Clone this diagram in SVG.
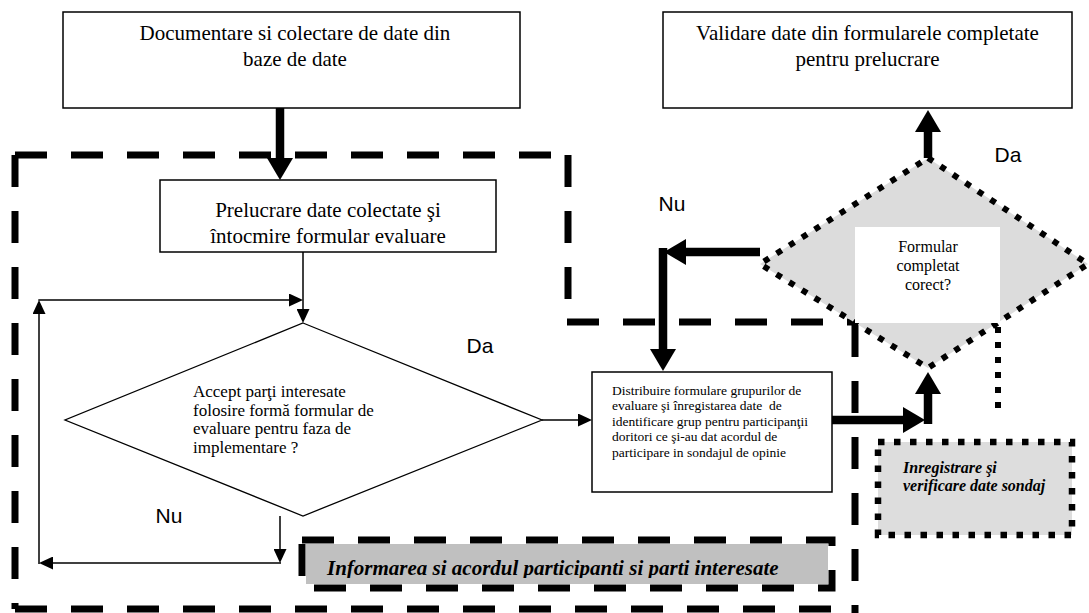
<svg xmlns="http://www.w3.org/2000/svg" width="1089" height="613" viewBox="0 0 1089 613">
<defs>
<style>
.box{fill:#fff;stroke:#000;stroke-width:1.5}
.t{font-family:"Liberation Serif","Times New Roman",serif;fill:#000}
.big{font-size:21px}
.lbl{font-family:"Liberation Sans",Arial,sans-serif;font-size:21px;fill:#000}
.dash{fill:none;stroke:#000;stroke-width:7;stroke-dasharray:32 24}
.dot{stroke:#000;stroke-width:6;stroke-dasharray:6 9}
.thin{fill:none;stroke:#000;stroke-width:1.5}
.thick{fill:none;stroke:#000;stroke-width:8.5}
.bi{font-weight:bold;font-style:italic}
</style>
<marker id="ah" markerUnits="userSpaceOnUse" markerWidth="14" markerHeight="13" refX="0" refY="6.5" orient="auto" viewBox="0 0 14 13">
<path d="M0,0 L14,6.5 L0,13 z" fill="#000"/>
</marker>
<marker id="ahT" markerUnits="userSpaceOnUse" markerWidth="22" markerHeight="26" refX="0" refY="13" orient="auto" viewBox="0 0 22 26">
<path d="M0,0 L22,13 L0,26 z" fill="#000"/>
</marker>
<clipPath id="clipInf"><rect x="300" y="530" width="540" height="48"/></clipPath>
</defs>
<rect width="1089" height="613" fill="#fff"/>

<g id="regions">
<line class="dash" x1="15" y1="155" x2="568" y2="155"/>
<line class="dash" x1="568" y1="155" x2="568" y2="322"/>
<line class="dash" x1="567" y1="322" x2="855" y2="322"/>
<line class="dash" x1="855" y1="325" x2="855" y2="613"/>
<line class="dash" x1="15" y1="609" x2="855" y2="609"/>
<line class="dash" x1="15" y1="155" x2="15" y2="609"/>
</g>

<g id="node-documentare">
<rect class="box" x="63" y="12" width="457" height="96"/>
<text class="t big" text-anchor="middle" x="295" y="40">Documentare si colectare de date din</text>
<text class="t big" text-anchor="middle" x="295" y="66">baze de date</text>
</g>

<g id="node-validare">
<rect class="box" x="663" y="12" width="409" height="96"/>
<text class="t big" text-anchor="middle" x="867.5" y="40">Validare date din formularele completate</text>
<text class="t big" text-anchor="middle" x="867.5" y="66">pentru prelucrare</text>
</g>

<g id="node-prelucrare">
<rect class="box" x="160" y="180" width="336" height="72"/>
<text class="t big" text-anchor="middle" x="328" y="217">Prelucrare date colectate şi</text>
<text class="t big" text-anchor="middle" x="328" y="243">întocmire formular evaluare</text>
</g>

<g id="node-accept">
<polygon points="303,323 542,420 303,516 65,420" fill="#fff" stroke="#000" stroke-width="1.3"/>
<text class="t" font-size="17" x="193" y="397">Accept parţi interesate</text>
<text class="t" font-size="17" x="193" y="415.5">folosire formă formular de</text>
<text class="t" font-size="17" x="193" y="434">evaluare pentru faza de</text>
<text class="t" font-size="17" x="193" y="452.5">implementare ?</text>
</g>

<g id="node-distribuire">
<rect class="box" x="592" y="372" width="240" height="120"/>
<text class="t" font-size="13.5" x="612" y="394.5">Distribuire formulare grupurilor de</text>
<text class="t" font-size="13.5" x="612" y="410" xml:space="preserve">evaluare şi înregistarea date  de</text>
<text class="t" font-size="13.5" x="612" y="425.5">identificare grup pentru participanţii</text>
<text class="t" font-size="13.5" x="612" y="441">doritori ce şi-au dat acordul de</text>
<text class="t" font-size="13.5" x="612" y="456.5">participare in sondajul de opinie</text>
</g>

<g id="node-formular">
<polygon points="928,158 1088,264 928,368 760,264" fill="#dcdcdc" class="dot"/>
<rect x="855" y="227" width="145" height="96" fill="#fff"/>
<text class="t" font-size="16" text-anchor="middle" x="928" y="252">Formular</text>
<text class="t" font-size="16" text-anchor="middle" x="928" y="271">completat</text>
<text class="t" font-size="16" text-anchor="middle" x="928" y="290">corect?</text>
<line class="dot" x1="998" y1="327" x2="998" y2="412"/>
</g>

<g id="node-informarea">
<rect x="302" y="540" width="530" height="48" fill="#c0c0c0" class="dash"/>
<rect x="306" y="544" width="522" height="40" fill="#c0c0c0"/>
<text class="t bi" font-size="21" x="327" y="575" clip-path="url(#clipInf)">Informarea si acordul participanti si parti interesate</text>
</g>

<g id="node-inregistrare">
<rect x="878" y="442" width="194" height="93" fill="#dddddd" class="dot" style="stroke-width:6.5;stroke-dasharray:6.5 9.5"/>
<text class="t bi" font-size="16" x="903" y="473">Inregistrare şi</text>
<text class="t bi" font-size="16" x="903" y="491">verificare date sondaj</text>
</g>

<g id="connectors">
<line class="thick" x1="280" y1="108" x2="280" y2="158" marker-end="url(#ahT)"/>
<line class="thin" x1="303" y1="252" x2="303" y2="309" marker-end="url(#ah)"/>
<line class="thin" x1="280" y1="516" x2="280" y2="549" marker-end="url(#ah)"/>
<polyline class="thin" points="281,563 53,563" marker-end="url(#ah)"/>
<line class="thin" x1="39" y1="564" x2="39" y2="314" marker-end="url(#ah)"/>
<line class="thin" x1="38.3" y1="300" x2="289" y2="300" marker-end="url(#ah)"/>
<line class="thin" x1="542" y1="420" x2="578" y2="420" marker-end="url(#ah)"/>
<line class="thick" x1="760" y1="252" x2="686" y2="252" marker-end="url(#ahT)"/>
<line class="thick" x1="663" y1="248" x2="663" y2="349" marker-end="url(#ahT)"/>
<line class="thick" x1="832" y1="420" x2="903" y2="420" marker-end="url(#ahT)"/>
<line class="thick" x1="928" y1="424" x2="928" y2="394" marker-end="url(#ahT)"/>
<line class="thick" x1="928" y1="158" x2="928" y2="132" marker-end="url(#ahT)"/>
<text class="lbl" text-anchor="middle" x="480" y="353">Da</text>
<text class="lbl" text-anchor="middle" x="1008" y="162">Da</text>
<text class="lbl" text-anchor="middle" x="672" y="211">Nu</text>
<text class="lbl" text-anchor="middle" x="169" y="523">Nu</text>
</g>
</svg>
